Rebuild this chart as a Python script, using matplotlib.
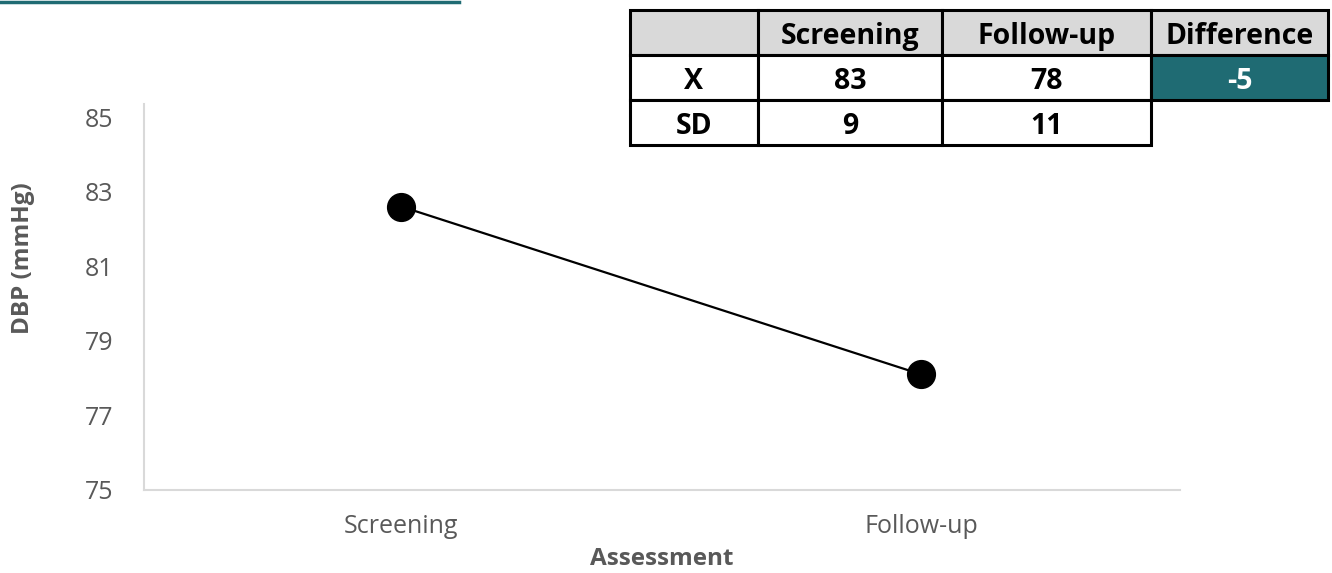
import matplotlib.pyplot as plt
from matplotlib.patches import Rectangle

# Mean diastolic blood pressure at each assessment
assessments = ["Screening", "Follow-up"]
dbp_mean = [82.6, 78.1]
dbp_sd = [9, 11]
row_labels = ["X", "SD"]

y_ticks = [75, 77, 79, 81, 83, 85]

TEAL = "#1f6b73"
GRAY_TEXT = "#595959"
plt.rcParams["font.family"] = ["Open Sans", "DejaVu Sans"]

fig = plt.figure(figsize=(13.32, 5.73), dpi=100)

# Main line chart
ax = fig.add_axes([144 / 1332, 83 / 573, 1036 / 1332, 386 / 573])
ax.plot(range(len(assessments)), dbp_mean, color="black", lw=1.6,
        marker="o", markersize=20, markerfacecolor="black", zorder=3)
ax.set_xlim(-0.495, 1.498)
ax.set_ylim(75, 85.35)
ax.set_yticks(y_ticks)
ax.set_xticks(range(len(assessments)))
ax.set_xticklabels(assessments)
ax.tick_params(length=0, labelsize=18, labelcolor=GRAY_TEXT)
ax.tick_params(axis="y", pad=22)
ax.tick_params(axis="x", pad=17)
for side in ("top", "right"):
    ax.spines[side].set_visible(False)
for side in ("left", "bottom"):
    ax.spines[side].set_color("#d9d9d9")
    ax.spines[side].set_linewidth(1.5)
ax.set_ylabel("DBP (mmHg)", fontsize=17.5, fontweight="bold", color=GRAY_TEXT)
ax.yaxis.set_label_coords(-0.105, 0.60)
ax.set_xlabel("Assessment", fontsize=17.5, fontweight="bold", color=GRAY_TEXT,
              labelpad=6)

# Overlay in pixel coordinates for the summary table and heading rule
ov = fig.add_axes([0, 0, 1, 1])
ov.set_xlim(0, 1332)
ov.set_ylim(573, 0)
ov.axis("off")
ov.plot([0, 459], [2, 2], color=TEAL, lw=2.5)

col_edges = [630, 758, 942, 1151, 1328]
row_edges = [10, 55, 100, 145]
header = ["", "Screening", "Follow-up", "Difference"]
means = [round(v) for v in dbp_mean]
diff = means[1] - means[0]
cells = [
    header,
    [row_labels[0], str(means[0]), str(means[1]), str(diff)],
    [row_labels[1], str(dbp_sd[0]), str(dbp_sd[1]), None],
]

for r, row in enumerate(cells):
    y0, y1 = row_edges[r], row_edges[r + 1]
    for c, txt in enumerate(row):
        if txt is None:
            continue
        x0, x1 = col_edges[c], col_edges[c + 1]
        face = "white"
        color = "black"
        if r == 0:
            face = "#d9d9d9"
        elif r == 1 and c == 3:
            face = TEAL
            color = "white"
        ov.add_patch(Rectangle((x0, y0), x1 - x0, y1 - y0, facecolor=face,
                               edgecolor="black", lw=2.2, zorder=2))
        ov.text((x0 + x1) / 2, (y0 + y1) / 2 + 4, txt, ha="center",
                va="center", fontsize=20.5, fontweight="bold", color=color,
                zorder=3)

fig.savefig("out.png", dpi=100)
